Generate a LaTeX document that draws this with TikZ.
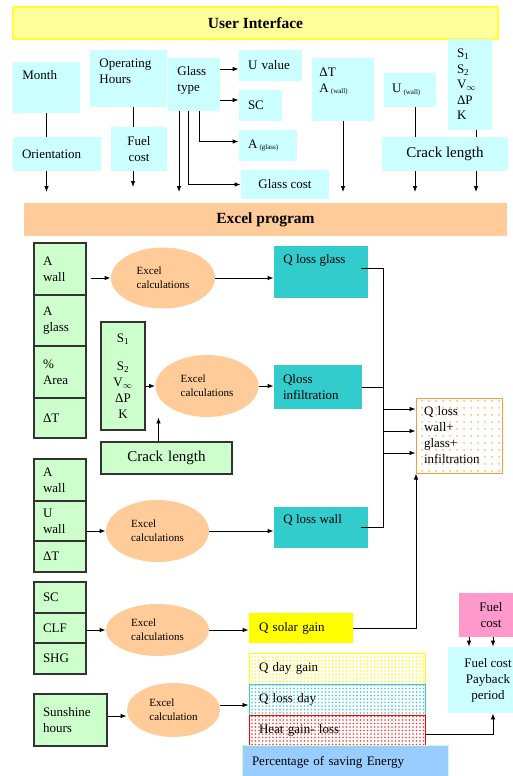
\documentclass[tikz,border=0pt]{standalone}
\usepackage{fontspec}
\setmainfont{Liberation Serif}
\usetikzlibrary{shapes.geometric,arrows.meta,patterns.meta}

\definecolor{uiyellow}{HTML}{FFFF99}
\definecolor{uiedge}{HTML}{FFFF33}
\definecolor{cyanpale}{HTML}{CCFFFF}
\definecolor{peach}{HTML}{FFCC99}
\definecolor{greenpale}{HTML}{CCFFCC}
\definecolor{celledge}{HTML}{333333}
\definecolor{qteal}{HTML}{33CCCC}
\definecolor{sumedge}{HTML}{FF9933}
\definecolor{solar}{HTML}{FFFF00}
\definecolor{pinkbox}{HTML}{FF99CC}
\definecolor{bluebox}{HTML}{99CCFF}

\tikzset{
  every node/.style={font=\fontsize{13}{16}\selectfont, inner sep=0pt},
  headbox/.style={rectangle, font=\bfseries\fontsize{15.5}{18}\selectfont},
  uibox/.style={rectangle, fill=cyanpale},
  cellbox/.style={rectangle, fill=greenpale, draw=celledge, line width=1.1pt, text width=34pt, align=left},
  calcbox/.style={ellipse, fill=peach, font=\fontsize{11}{14}\selectfont, align=left},
  qbox/.style={rectangle, fill=qteal},
  dotbox/.style={rectangle, line width=1pt, text width=156pt, align=left, minimum width=176pt, minimum height=31pt},
  txt/.style={anchor=west, align=left}
}
\newcommand{\subtxt}[1]{\,\raisebox{-1.5pt}{\fontsize{7}{8}\selectfont (#1)}}

\begin{document}
\begin{tikzpicture}[x=1pt, y=-1pt, line width=0.8pt, >={Latex[length=6pt,width=4.5pt]}]
\clip (0,0) rectangle (513,776);

% user interface
\node[headbox, fill=uiyellow, draw=uiedge, line width=1.5pt, minimum width=485pt, minimum height=32pt] (ui) at (255.5,23) {User Interface};
\node[uibox, minimum width=67pt, minimum height=51pt] (month) at (46.5,87.5) {};
\node[txt] (monthT) at (22,75) {Month};
\node[uibox, minimum width=77pt, minimum height=57pt] (ophrs) at (128.5,78.5) {};
\node[txt] (ophrsT) at (99,71) {Operating\\Hours};
\node[uibox, minimum width=52pt, minimum height=53pt] (gtype) at (194,84.5) {};
\node[txt] (gtypeT) at (177,80.5) {Glass\\type};
\node[uibox, minimum width=63pt, minimum height=31pt, text width=45pt, align=left] (uval) at (270.5,65.5) {U value};
\node[uibox, minimum width=43pt, minimum height=31pt, text width=25pt, align=left] (sc) at (260.5,105.5) {SC};
\node[uibox, minimum width=58pt, minimum height=31pt, text width=40pt, align=left] (aglass) at (268,145.5) {A\subtxt{glass}};
\node[uibox, minimum width=88pt, minimum height=29pt] (gcost) at (285,184.5) {Glass cost};
\node[uibox, minimum width=62pt, minimum height=63pt] (dta) at (343,89.5) {};
\node[txt] (dtaT) at (319,81.5) {ΔT\\A\subtxt{wall}};
\node[uibox, minimum width=52pt, minimum height=34pt, text width=36pt, align=left] (uwall) at (410,90) {U\subtxt{wall}};
\node[uibox, minimum width=44pt, minimum height=91pt, text width=26pt, align=left, font=\fontsize{13}{15.5}\selectfont] (sbox) at (470,84.5) {S\textsubscript{1}\\S\textsubscript{2}\\V$_\infty$\\ΔP\\K};
\node[uibox, minimum width=88pt, minimum height=34pt, text width=70pt, align=left] (orient) at (57,154) {Orientation};
\node[uibox, minimum width=56pt, minimum height=44pt, align=center] (fuel1) at (139,149) {Fuel\\cost};
\node[uibox, minimum width=126pt, minimum height=34pt, font=\fontsize{15}{18}\selectfont] (crack1) at (445,154) {Crack length};

\coordinate (tiprow) at (0,192);
\draw (month.south) -- (month.south |- orient.north);
\draw[->] (month.south |- orient.south) -- (month.south |- tiprow);
\draw ([xshift=4.5pt]ophrs.south) -- ([xshift=4.5pt]ophrs.south |- fuel1.north);
\draw[->, shorten >=5pt] ([xshift=4.5pt]ophrs.south |- fuel1.south) -- ([xshift=4.5pt]ophrs.south |- tiprow);
\draw[->] ([xshift=-15pt]gtype.south) -- ([xshift=-15pt]gtype.south |- tiprow);
\draw[->] ([xshift=-6pt]gtype.south) |- (gcost.west);
\draw[->] ([xshift=5pt]gtype.south) |- ([yshift=4pt]aglass.west);
\draw[->] ([yshift=-3.5pt]uval.west -| gtype.east) -- ([yshift=-3.5pt]uval.west);
\draw[->] ([yshift=5.5pt]sc.west -| gtype.east) -- ([yshift=5.5pt]sc.west);
\draw[->] (dta.south) -- (dta.south |- tiprow);
\draw ([xshift=5pt]uwall.south) -- ([xshift=5pt]uwall.south |- crack1.north);
\draw[->] ([xshift=5pt]uwall.south |- crack1.south) -- ([xshift=5pt]uwall.south |- tiprow);
\draw ([xshift=6pt]sbox.south) -- ([xshift=6pt]sbox.south |- crack1.north);
\draw[->] ([xshift=6pt]sbox.south |- crack1.south) -- ([xshift=6pt]sbox.south |- tiprow);

% excel program
\node[headbox, fill=peach, minimum width=483pt, minimum height=33pt] (excel) at (265.5,219.5) {Excel program};

% glass losses
\node[cellbox, minimum width=52pt, minimum height=52pt] (awall1) at (60,269) {A\\wall};
\node[cellbox, minimum width=52pt, minimum height=51pt] (aglass1) at (60,320.5) {A\\glass};
\node[cellbox, minimum width=52pt, minimum height=52pt] (parea) at (60,372) {\%\\Area};
\node[cellbox, minimum width=52pt, minimum height=40pt] (dt1) at (60,418) {ΔT\\[6pt]};
\node[calcbox, minimum width=104pt, minimum height=61pt] (ell1) at (163,278) {Excel\\calculations};
\node[qbox, minimum width=94pt, minimum height=52pt] (qglass) at (321,272) {};
\node[txt] (qglassT) at (283,260) {Q loss glass};

% infiltration
\node[cellbox, minimum width=44pt, minimum height=108pt, text width=30pt, align=center] (sbox2) at (123,376) {S\textsubscript{1}\\[12pt]S\textsubscript{2}\\V$_\infty$\\ΔP\\K};
\node[calcbox, minimum width=103pt, minimum height=62pt] (ell2) at (207,386) {Excel\\calculations};
\node[cellbox, minimum width=131pt, minimum height=32pt, text width=110pt, align=center, font=\fontsize{15}{18}\selectfont] (crack2) at (166.5,458) {Crack length};
\node[qbox, minimum width=88pt, minimum height=44pt, text width=70pt, align=left] (qinf) at (318,387) {Qloss\\infiltration};

% wall losses
\node[cellbox, minimum width=52pt, minimum height=42pt] (awall3) at (60,480) {A\\wall};
\node[cellbox, minimum width=52pt, minimum height=40pt] (uwall3) at (60,521) {U\\wall};
\node[cellbox, minimum width=52pt, minimum height=31pt] (dt3) at (60,556.5) {ΔT};
\node[calcbox, minimum width=103pt, minimum height=62pt] (ell3) at (157.5,531) {Excel\\calculations};
\node[qbox, minimum width=94pt, minimum height=41pt] (qwall) at (321,527.5) {};
\node[txt] (qwallT) at (283,520) {Q loss wall};

% sum of losses
\node[rectangle, draw=sumedge, line width=1pt, pattern={Dots[distance=6.5pt,radius=0.9pt]}, pattern color=sumedge, minimum width=86pt, minimum height=75pt, text width=70pt, align=left] (combo) at (459,435.5) {Q loss\\wall+\\glass+\\infiltration};

% solar gain
\node[cellbox, minimum width=52pt, minimum height=31pt] (sc4) at (60,597.5) {SC};
\node[cellbox, minimum width=52pt, minimum height=30pt] (clf) at (60,628) {CLF};
\node[cellbox, minimum width=52pt, minimum height=31pt] (shg) at (60,658.5) {SHG};
\node[calcbox, minimum width=103pt, minimum height=52pt] (ell4) at (157.5,630) {Excel\\calculations};
\node[rectangle, fill=solar, minimum width=104pt, minimum height=30pt, text width=84pt, align=left] (qsolar) at (301,628) {Q solar gain};

% daily figures
\node[cellbox, minimum width=73pt, minimum height=52pt, text width=55pt] (sunsh) at (70.5,720) {Sunshine\\hours};
\node[calcbox, minimum width=93pt, minimum height=54pt] (ell5) at (173.5,710) {Excel\\calculation};
\node[dotbox, draw=solar, pattern={Dots[distance=3.5pt,radius=0.8pt]}, pattern color=solar] (qday) at (337,668.5) {Q day gain};
\node[dotbox, draw=qteal, pattern={Dots[distance=3.5pt,radius=0.8pt]}, pattern color=qteal] (qlday) at (337,699.5) {Q loss day};
\node[dotbox, draw=red, pattern={Dots[distance=3.5pt,radius=0.8pt]}, pattern color=red!80, minimum height=30pt] (heat) at (337,730) {Heat gain- loss};
\node[rectangle, fill=bluebox, draw=greenpale, line width=0.6pt, minimum width=206pt, minimum height=34pt, text width=186pt, align=left] (pct) at (345,762) {Percentage of saving Energy};

% payback
\node[rectangle, fill=pinkbox, minimum width=64pt, minimum height=44pt, align=center] (fuel2) at (491,615) {Fuel\\cost};
\node[uibox, minimum width=80pt, minimum height=66pt, align=center] (payback) at (488,680) {Fuel cost\\Payback\\period};

% connectors
\draw[->, shorten <=4pt] (ell1.west -| awall1.east) -- (ell1.west);
\draw[->] (ell1.east) -- (ell1.east -| qglass.west);
\draw[->] (ell2.west -| sbox2.east) -- (ell2.west);
\draw[->] ([xshift=-8pt]crack2.north) -- ([xshift=-8pt]crack2.north |- ell2.south);
\draw[->] (ell2.east) -- (ell2.east -| qinf.west);
\draw[->] (ell3.west -| uwall3.east) -- (ell3.west);
\draw[->] (ell3.east) -- (ell3.east -| qwall.west);
\coordinate (bus) at (383,400);
\draw ([yshift=4pt,xshift=-7pt]qglass.east) -| (bus |- qwall.east) -- ([xshift=-7pt]qwall.east);
\draw (qinf.east) -- (qinf.east -| bus);
\foreach \dy in {26.5,4.5,-17.5}
  \draw[->] ([yshift=\dy pt]combo.west -| bus) -- ([yshift=\dy pt]combo.west);
\draw[->] (ell4.west -| clf.east) -- (ell4.west);
\draw[->] (ell4.east) -- (ell4.east -| qsolar.west);
\draw[->] (qsolar.east) -| ([xshift=0.5pt]combo.south west);
\draw[->] ([yshift=4pt]sunsh.east) -- ([yshift=4pt]sunsh.east -| ell5.west);
\draw[->] ([yshift=5pt]ell5.east) -- ([yshift=5pt]ell5.east -| qlday.west);
\foreach \dx in {-22,2}
  \draw[->] ([xshift=\dx pt]fuel2.south) -- ([xshift=\dx pt]fuel2.south |- payback.north);
\draw[->] ([yshift=-4.5pt]heat.east) -| ([xshift=5pt]payback.south);
\end{tikzpicture}
\end{document}
